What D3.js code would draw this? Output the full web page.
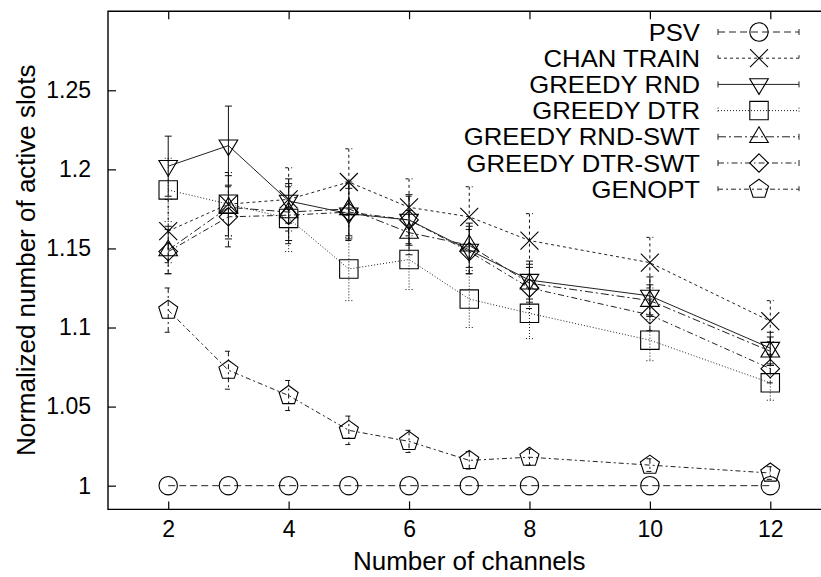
<html lang="en">
<head>
<meta charset="utf-8">
<title>Normalized number of active slots</title>
<script src="https://cdn.jsdelivr.net/npm/d3@7"></script>
<style>
  body { margin: 0; background: #fff; }
  text { font-family: "Liberation Sans", Arial, Helvetica, sans-serif; fill: #000; }
</style>
</head>
<body>
<script>
// data
var channels = [2, 3, 4, 5, 6, 7, 8, 10, 12];

var psv          = [1, 1, 1, 1, 1, 1, 1, 1, 1];
var psvErr       = [0, 0, 0, 0, 0, 0, 0, 0, 0];
var chanTrain    = [1.161, 1.178, 1.181, 1.192, 1.176, 1.170, 1.155, 1.141, 1.104];
var chanTrainErr = [0.020, 0.020, 0.020, 0.021, 0.018, 0.019, 0.017, 0.016, 0.013];
var greedyRnd    = [1.202, 1.215, 1.180, 1.172, 1.168, 1.149, 1.130, 1.120, 1.087];
var greedyRndErr = [0.019, 0.025, 0.014, 0.016, 0.016, 0.015, 0.012, 0.012, 0.010];
var greedyDtr    = [1.187, 1.178, 1.169, 1.137, 1.143, 1.118, 1.109, 1.092, 1.065];
var greedyDtrErr = [0.020, 0.020, 0.021, 0.020, 0.019, 0.018, 0.016, 0.013, 0.011];
var rndSwt       = [1.149, 1.176, 1.173, 1.175, 1.160, 1.152, 1.128, 1.117, 1.085];
var rndSwtErr    = [0.015, 0.020, 0.018, 0.017, 0.014, 0.014, 0.012, 0.010, 0.009];
var dtrSwt       = [1.148, 1.170, 1.171, 1.173, 1.168, 1.148, 1.125, 1.108, 1.074];
var dtrSwtErr    = [0.014, 0.019, 0.018, 0.018, 0.015, 0.014, 0.013, 0.010, 0.009];
var genopt       = [1.111, 1.073, 1.057, 1.035, 1.028, 1.016, 1.018, 1.013, 1.008];
var genoptErr    = [0.014, 0.012, 0.0095, 0.009, 0.007, 0.0055, 0.005, 0.004, 0.004];

var seriesNames = ["PSV", "CHAN TRAIN", "GREEDY RND", "GREEDY DTR",
                   "GREEDY RND-SWT", "GREEDY DTR-SWT", "GENOPT"];
var xTicks = [2, 4, 6, 8, 10, 12];
var yTicks = [1, 1.05, 1.1, 1.15, 1.2, 1.25];

// styles per series
var styles = [
  { marker: "circle",   dash: "7,4" },
  { marker: "cross",    dash: "3,3" },
  { marker: "tridown",  dash: null },
  { marker: "square",   dash: "1,2" },
  { marker: "triup",    dash: "8,3,2,3" },
  { marker: "diamond",  dash: "6,3,1.5,3" },
  { marker: "pentagon", dash: "5,3,2,3" }
];

var series = [
  [psv, psvErr], [chanTrain, chanTrainErr], [greedyRnd, greedyRndErr],
  [greedyDtr, greedyDtrErr], [rndSwt, rndSwtErr], [dtrSwt, dtrSwtErr],
  [genopt, genoptErr]
].map(function(s, i) {
  return {
    name: seriesNames[i],
    style: styles[i],
    points: channels.map(function(c, j) { return { x: c, y: s[0][j], e: s[1][j] }; })
  };
});

var w = 821, h = 577;

var svg = d3.select("body").append("svg")
  .attr("width", w)
  .attr("height", h);

var xScale = d3.scaleLinear().domain([1, 13]).range([108, 830.5]);
var yScale = d3.scaleLinear().domain([0.985, 1.3]).range([509.4, 11.2]);

// marker shapes (gnuplot-ish open points)
function markerPath(type) {
  var p = d3.path();
  if (type === "circle") {
    p.moveTo(9.2, 0); p.arc(0, 0, 9.2, 0, 2 * Math.PI);
  } else if (type === "cross") {
    p.moveTo(-9, -9); p.lineTo(9, 9); p.moveTo(-9, 9); p.lineTo(9, -9);
  } else if (type === "tridown") {
    p.moveTo(-9.3, -5.7); p.lineTo(9.3, -5.7); p.lineTo(0, 10); p.closePath();
  } else if (type === "triup") {
    p.moveTo(-9.3, 5.7); p.lineTo(9.3, 5.7); p.lineTo(0, -10); p.closePath();
  } else if (type === "square") {
    p.rect(-9.2, -9.2, 18.4, 18.4);
  } else if (type === "diamond") {
    p.moveTo(0, -9.2); p.lineTo(9.3, 0); p.lineTo(0, 9.2); p.lineTo(-9.3, 0); p.closePath();
  } else if (type === "pentagon") {
    for (var k = 0; k < 5; k++) {
      var a = -Math.PI / 2 + k * 2 * Math.PI / 5;
      if (k === 0) p.moveTo(10 * Math.cos(a), 10 * Math.sin(a));
      else p.lineTo(10 * Math.cos(a), 10 * Math.sin(a));
    }
    p.closePath();
  }
  return p.toString();
}

// axes
var yAxis = d3.axisLeft(yScale)
  .tickValues(yTicks)
  .tickSize(-8)
  .tickSizeOuter(0)
  .tickPadding(17)
  .tickFormat(function(d) { return String(+d.toFixed(2)); });
var gY = svg.append("g")
  .attr("transform", "translate(" + xScale.range()[0] + ",0)")
  .call(yAxis);

var xAxis = d3.axisBottom(xScale)
  .tickValues(xTicks)
  .tickSize(-8)
  .tickSizeOuter(0)
  .tickPadding(11);
var gX = svg.append("g")
  .attr("transform", "translate(0," + yScale.range()[0] + ")")
  .call(xAxis);

var xTop = d3.axisTop(xScale)
  .tickValues(xTicks)
  .tickSize(-8)
  .tickSizeOuter(0)
  .tickFormat("");
var gXt = svg.append("g")
  .attr("transform", "translate(0," + yScale.range()[1] + ")")
  .call(xTop);

[gX, gY, gXt].forEach(function(g) {
  g.select(".domain").remove();
  g.selectAll(".tick line").attr("stroke", "#000").attr("stroke-width", 1.2);
  g.selectAll(".tick text").attr("font-size", 23).attr("font-family", null);
});

// frame (left, top, bottom)
var x0 = xScale.range()[0], x1 = xScale.range()[1];
var yb = yScale.range()[0], yt = yScale.range()[1];
svg.append("path")
  .attr("d", "M" + x1 + "," + yt + "H" + x0 + "V" + yb + "H" + x1)
  .attr("fill", "none")
  .attr("stroke", "#000")
  .attr("stroke-width", 1.4);

// axis titles
svg.append("text")
  .attr("x", (x0 + x1) / 2)
  .attr("y", 570)
  .attr("text-anchor", "middle")
  .attr("font-size", 26)
  .text("Number of channels");

svg.append("text")
  .attr("transform", "translate(35," + ((yt + yb) / 2) + ") rotate(-90)")
  .attr("text-anchor", "middle")
  .attr("font-size", 26)
  .text("Normalized number of active slots");

// series
var line = d3.line()
  .x(function(d) { return xScale(d.x); })
  .y(function(d) { return yScale(d.y); });

var capW = 3.5;

series.forEach(function(s) {
  var g = svg.append("g");
  var dash = s.style.dash;

  g.append("path")
    .attr("d", line(s.points))
    .attr("fill", "none")
    .attr("stroke", "#222")
    .attr("stroke-width", 1)
    .attr("stroke-dasharray", dash);

  // error bars
  g.selectAll("path.err")
    .data(s.points.filter(function(d) { return d.e > 0; }))
    .enter()
    .append("path")
    .attr("class", "err")
    .attr("d", function(d) {
      var cx = xScale(d.x), ya = yScale(d.y + d.e), yc = yScale(d.y - d.e);
      return "M" + cx + "," + ya + "V" + yc +
             "M" + (cx - capW) + "," + ya + "H" + (cx + capW) +
             "M" + (cx - capW) + "," + yc + "H" + (cx + capW);
    })
    .attr("fill", "none")
    .attr("stroke", "#111")
    .attr("stroke-width", 1)
    .attr("stroke-dasharray", dash);

  // markers
  g.selectAll("path.pt")
    .data(s.points)
    .enter()
    .append("path")
    .attr("class", "pt")
    .attr("transform", function(d) { return "translate(" + xScale(d.x) + "," + yScale(d.y) + ")"; })
    .attr("d", markerPath(s.style.marker))
    .attr("fill", "none")
    .attr("stroke", "#000")
    .attr("stroke-width", 1.1);
});

// legend
var legY0 = 32, legStep = 26.2;
var leg = svg.append("g");
series.forEach(function(s, i) {
  var y = legY0 + i * legStep;
  leg.append("text")
    .attr("transform", "translate(700," + y + ") scale(1.07,1)")
    .attr("text-anchor", "end")
    .attr("dy", "0.36em")
    .attr("font-size", 24)
    .text(s.name);
  leg.append("path")
    .attr("d", "M718," + y + "H799M718," + (y - 3) + "V" + (y + 3) + "M799," + (y - 3) + "V" + (y + 3))
    .attr("fill", "none")
    .attr("stroke", "#222")
    .attr("stroke-width", 1)
    .attr("stroke-dasharray", s.style.dash);
  leg.append("path")
    .attr("transform", "translate(759," + y + ")")
    .attr("d", markerPath(s.style.marker))
    .attr("fill", "none")
    .attr("stroke", "#000")
    .attr("stroke-width", 1.1);
});
</script>
</body>
</html>
